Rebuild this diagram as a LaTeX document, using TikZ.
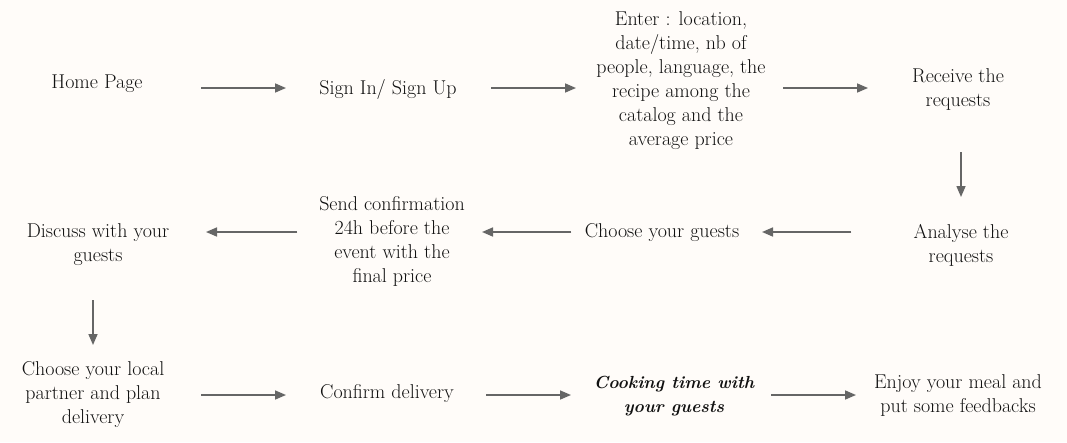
\documentclass[tikz,border=0pt]{standalone}
\usetikzlibrary{arrows.meta}
\definecolor{bg}{HTML}{FFFCF9}
\definecolor{arr}{HTML}{666666}
\definecolor{txt}{HTML}{111111}
\begin{document}
\begin{tikzpicture}[x=1pt,y=-1pt,
  lbl/.style={align=center,text=txt,font=\fontsize{20}{24}\selectfont,inner sep=0pt},
  flow/.style={draw=arr,line width=1.6pt,-{Triangle[length=11pt,width=9pt]},fill=arr}]
\fill[bg] (0,0) rectangle (1067,442);
\useasboundingbox (0,0) rectangle (1067,442);
% row 1
\node[lbl] (home) at (97,84) {Home Page};
\node[lbl] (sign) at (388,89) {Sign In/ Sign Up};
\node[lbl] (enter) at (681,81) {Enter : location,\\date/time, nb of\\people, language, the\\recipe among the\\catalog and the\\average price};
\node[lbl] (recv) at (958,90) {Receive the\\requests};
% row 2
\node[lbl] (anal) at (961,245) {Analyse the\\requests};
\node[lbl] (choose) at (662,233) {Choose your guests};
\node[lbl] (send) at (392,241) {Send confirmation\\24h before the\\event with the\\final price};
\node[lbl] (disc) at (98,245) {Discuss with your\\guests};
% row 3
\node[lbl] (partner) at (93,395) {Choose your local\\partner and plan\\delivery};
\node[lbl] (conf) at (387,394) {Confirm delivery};
\node[lbl,font=\fontsize{17.5}{24}\selectfont\bfseries\itshape] (cook) at (674,396) {Cooking time with\\your guests};
\node[lbl] (enjoy) at (958,396) {Enjoy your meal and\\put some feedbacks};
% arrow coordinates
\coordinate (a1s) at (201,88); \coordinate (a1e) at (286,88);
\coordinate (a2s) at (491,88); \coordinate (a2e) at (576,88);
\coordinate (a3s) at (783,88); \coordinate (a3e) at (868,88);
\coordinate (v1s) at (961,152); \coordinate (v1e) at (961,197);
\coordinate (b1s) at (851,232); \coordinate (b1e) at (762,232);
\coordinate (b2s) at (571,232); \coordinate (b2e) at (482,232);
\coordinate (b3s) at (297,232); \coordinate (b3e) at (206,232);
\coordinate (v2s) at (93,300); \coordinate (v2e) at (93,345);
\coordinate (c1s) at (201,395); \coordinate (c1e) at (286,395);
\coordinate (c2s) at (486,395); \coordinate (c2e) at (571,395);
\coordinate (c3s) at (771,395); \coordinate (c3e) at (856,395);
\foreach \s/\e in {a1s/a1e,a2s/a2e,a3s/a3e,v1s/v1e,b1s/b1e,b2s/b2e,b3s/b3e,v2s/v2e,c1s/c1e,c2s/c2e,c3s/c3e}
  \draw[flow] (\s) -- (\e);
\end{tikzpicture}
\end{document}
